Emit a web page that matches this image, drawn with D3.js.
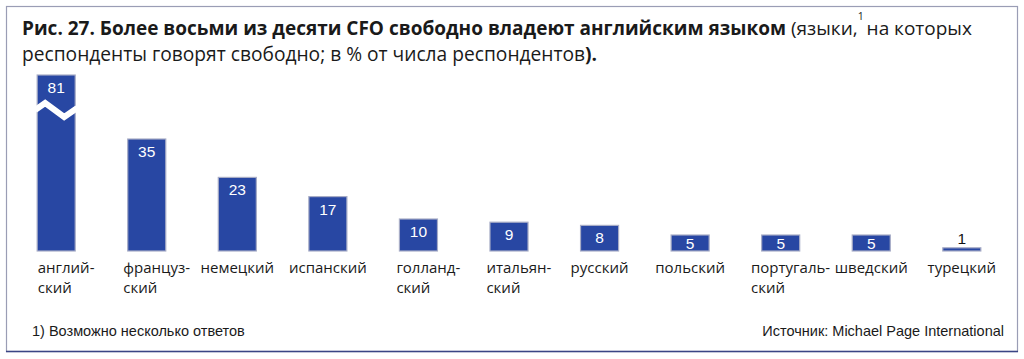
<!DOCTYPE html>
<html><head><meta charset="utf-8">
<script src="https://cdn.jsdelivr.net/npm/d3@7"></script>
<style>
html,body{margin:0;padding:0;background:#fff;}
svg{display:block;}
</style></head>
<body>
<svg id="c" width="1024" height="359"></svg>
<script>
const categories = ["английский","французский","немецкий","испанский","голландский","итальянский","русский","польский","португальский","шведский","турецкий"];
const labelLines = [["англий-","ский"],["француз-","ский"],["немецкий"],["испанский"],["голланд-","ский"],["итальян-","ский"],["русский"],["польский"],["португаль-","ский"],["шведский"],["турецкий"]];
const values = [81,35,23,17,10,9,8,5,5,5,1];
const breakCap = 55; // bars above this value are drawn broken at this height

const svg = d3.select("#c");
const baseY = 251;
const x = d3.scaleBand().domain(categories).range([10,1008]).paddingInner(0.58).paddingOuter(0.3);
const y = d3.scaleLinear().domain([0,35]).range([baseY,139]);

// frame
svg.append("rect").attr("x",6.5).attr("y",6.5).attr("width",1011).attr("height",345)
  .attr("fill","none").attr("stroke","#9a9db5").attr("stroke-width",1.2);
svg.append("line").attr("x1",6).attr("x2",1018).attr("y1",351.5).attr("y2",351.5)
  .attr("stroke","#3a4585").attr("stroke-width",1.6);

// title
const t1 = svg.append("text").attr("x",22).attr("y",35).attr("font-family","Open Sans").attr("font-size",19).attr("fill","#1a1a1a");
t1.append("tspan").attr("font-weight","bold").text("Рис. 27. Более восьми из десяти CFO свободно владеют английским языком");
t1.append("tspan").text(" (языки,");
t1.append("tspan").attr("font-size",10.5).attr("dx",0).attr("dy",-15).text("1");
t1.append("tspan").attr("dy",15).attr("dx",-2).text(" на которых");
const t2 = svg.append("text").attr("x",22).attr("y",61).attr("font-family","Open Sans").attr("font-size",19.2).attr("fill","#1a1a1a");
t2.append("tspan").text("респонденты говорят свободно; в % от числа респондентов");
t2.append("tspan").attr("font-weight","bold").text(").");

// bars
const data = categories.map((c,i)=>({c, v:values[i], lines:labelLines[i]}));
const g = svg.append("g");
g.selectAll("rect.bar").data(data).join("rect").attr("class","bar")
  .attr("x",d=>x(d.c)).attr("width",x.bandwidth())
  .attr("y",d=>y(Math.min(d.v,breakCap))).attr("height",d=>baseY-y(Math.min(d.v,breakCap)))
  .attr("fill","#2847a3").attr("stroke","#a7acc6").attr("stroke-width",1.2);

// break marker for capped bars
data.filter(d=>d.v>breakCap).forEach(d=>{
  const x0=x(d.c), w=x.bandwidth(), yt=y(breakCap);
  const line=d3.line();
  g.append("path").attr("d",line([[x0-2,yt+35],[x0+8,yt+28],[x0+27,yt+42],[x0+w+2,yt+33]]))
   .attr("fill","none").attr("stroke","#fff").attr("stroke-width",6);
});

// value labels
g.selectAll("text.val").data(data).join("text").attr("class","val")
  .attr("x",d=>x(d.c)+x.bandwidth()/2)
  .attr("y",d=>{const top=y(Math.min(d.v,breakCap)); const h=baseY-top; if(h<8) return top-4; return Math.min(top+18, baseY-2.5);})
  .attr("text-anchor","middle").attr("font-family","Liberation Sans, Arial").attr("font-size",15.5)
  .attr("fill",d=>(baseY-y(d.v))<8?"#111":"#fff").text(d=>d.v);

// category labels
data.forEach(d=>{
  const cx=x(d.c)+x.bandwidth()/2;
  const t=g.append("text").attr("font-family","Open Sans").attr("font-size",15).attr("fill","#1a1a1a");
  if(d.lines.length===1){
    t.attr("x",cx).attr("y",273).attr("text-anchor","middle").text(d.lines[0]);
  } else {
    d.lines.forEach((l,i)=>t.append("tspan").attr("x",0).attr("y",273+i*20).text(l));
    const w=t.node().getBBox().width;
    t.selectAll("tspan").attr("x",cx-w/2+10);
  }
});

// footer
svg.append("text").attr("x",32).attr("y",336).attr("font-family","Liberation Sans Narrow, Liberation Sans").attr("font-size",14.5).attr("fill","#1a1a1a").text("1) Возможно несколько ответов");
svg.append("text").attr("x",1004).attr("y",336).attr("text-anchor","end").attr("font-family","Liberation Sans Narrow, Liberation Sans").attr("font-size",14.5).attr("fill","#1a1a1a").text("Источник: Michael Page International");
</script>
</body></html>
